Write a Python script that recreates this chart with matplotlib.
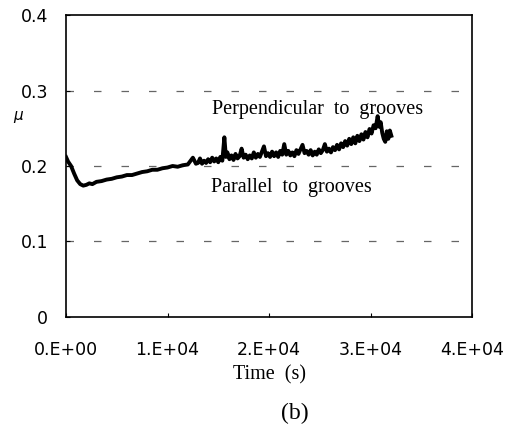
import numpy as np
import matplotlib
matplotlib.use('Agg')
from matplotlib import pyplot as plt

# friction coefficient vs time
time_s = [0, 200, 500, 800, 1100, 1400, 1700, 2000, 2300, 2600, 3000, 3500,
          4000, 4500, 5000, 5500, 6000, 6500, 7000, 7500, 8000, 8500, 9000,
          9500, 10000, 10500, 11000, 11500, 12000, 12500, 12800,
          13000, 13200, 13400, 13600, 13800, 14000, 14200, 14400, 14600, 14800,
          15000, 15200, 15400, 15600, 15750, 15900, 16100, 16300, 16500, 16700,
          16900, 17100, 17300, 17500, 17700, 17900, 18100, 18300, 18500, 18700,
          18900, 19100, 19300, 19500, 19700, 19900, 20100, 20300, 20500, 20700,
          20900, 21100, 21300, 21500, 21700, 21900, 22100, 22300, 22500, 22700,
          22900, 23100, 23300, 23500, 23700, 23900, 24100, 24300, 24500, 24700,
          24900, 25100, 25300, 25500, 25700, 25900, 26100, 26300, 26500, 26700,
          26900, 27100, 27300, 27500, 27700, 27900, 28100, 28300, 28500, 28700,
          28900, 29100, 29300, 29500, 29700, 29900, 30100, 30300, 30500, 30700,
          30850, 31000, 31150, 31300, 31450, 31600, 31750, 31900, 32050]
mu = [0.212, 0.206, 0.200, 0.190, 0.181, 0.176, 0.174, 0.175, 0.177, 0.176,
      0.179, 0.180, 0.182, 0.183, 0.185, 0.186, 0.188, 0.188, 0.190, 0.192,
      0.193, 0.195, 0.195, 0.197, 0.198, 0.200, 0.199, 0.201, 0.202, 0.211,
      0.203,
      0.204, 0.210, 0.203, 0.207, 0.204, 0.209, 0.205, 0.211, 0.206, 0.210,
      0.205, 0.212, 0.207, 0.238, 0.212, 0.218, 0.209, 0.214, 0.208, 0.216,
      0.210, 0.213, 0.223, 0.211, 0.215, 0.209, 0.214, 0.210, 0.218, 0.211,
      0.216, 0.212, 0.219, 0.226, 0.213, 0.217, 0.212, 0.219, 0.213, 0.218,
      0.212, 0.220, 0.215, 0.229, 0.215, 0.220, 0.214, 0.218, 0.213, 0.221,
      0.216, 0.222, 0.228, 0.217, 0.220, 0.215, 0.221, 0.214, 0.219, 0.215,
      0.222, 0.217, 0.221, 0.229, 0.219, 0.223, 0.218, 0.225, 0.221, 0.228,
      0.222, 0.230, 0.225, 0.233, 0.227, 0.236, 0.229, 0.238, 0.230, 0.240,
      0.233, 0.242, 0.235, 0.245, 0.238, 0.249, 0.243, 0.254, 0.250, 0.266,
      0.252, 0.258, 0.244, 0.236, 0.232, 0.246, 0.236, 0.247, 0.240]

xticks = [0, 1e4, 2e4, 3e4, 4e4]
xtick_labels = ['0.E+00', '1.E+04', '2.E+04', '3.E+04', '4.E+04']
yticks = [0, 0.1, 0.2, 0.3, 0.4]
ytick_labels = ['0', '0.1', '0.2', '0.3', '0.4']
grid_y = [0.1, 0.2, 0.3]

fig = plt.figure(figsize=(5.14, 4.24), dpi=100)
ax = fig.add_axes([0.1284, 0.2524, 0.790, 0.7122])

for g in grid_y:
    ax.axhline(g, color='0.4', lw=0.9, ls=(0, (6, 16)), zorder=1)

ax.plot(time_s, mu, color='black', lw=2.8, zorder=3)

ax.set_xlim(0, 4e4)
ax.set_ylim(0, 0.4)
ax.set_xticks(xticks)
ax.set_xticklabels(xtick_labels, fontsize=12.5, family='DejaVu Sans')
ax.set_yticks(yticks)
ax.set_yticklabels(ytick_labels, fontsize=12.5, family='DejaVu Sans')
ax.tick_params(direction='in', length=3, width=0.8)
ax.tick_params(axis='x', pad=17)
ax.tick_params(axis='y', pad=13)
for s in ax.spines.values():
    s.set_linewidth(1.2)

ax.set_xlabel('Time  (s)', fontsize=14.5, family='Liberation Serif', labelpad=5)
fig.text(0.036, 0.725, r'$\mu$', fontsize=11, ha='center', va='center')

ax.text(1.44e4, 0.275, 'Perpendicular  to  grooves', fontsize=14.5,
        family='Liberation Serif', va='center')
ax.text(1.43e4, 0.171, 'Parallel  to  grooves', fontsize=14.5,
        family='Liberation Serif', va='center')

fig.text(0.574, 0.024, '(b)', fontsize=17, family='Liberation Serif',
         ha='center', va='center')

fig.savefig('out.png', dpi=100)
